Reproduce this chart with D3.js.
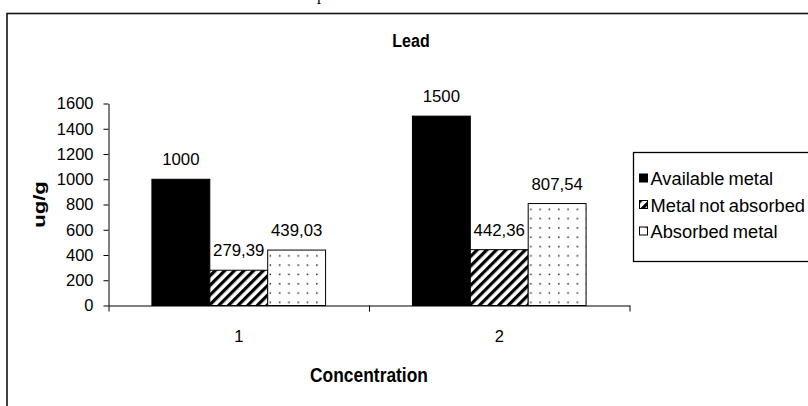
<!DOCTYPE html>
<html>
<head>
<meta charset="utf-8">
<script src="https://cdn.jsdelivr.net/npm/d3@7/dist/d3.min.js"></script>
<style>
  body { margin: 0; background: #fff; }
  svg { display: block; font-family: 'Liberation Sans', Arial, sans-serif; }
</style>
</head>
<body>
<svg id="chart" width="808" height="406"></svg>
<script>
var categories = ['1', '2']
var seriesNames = ['Available metal', 'Metal not absorbed', 'Absorbed metal']
var availableMetal = [1000, 1500]
var metalNotAbsorbed = [279.39, 442.36]
var absorbedMetal = [439.03, 807.54]
var yTicks = [0, 200, 400, 600, 800, 1000, 1200, 1400, 1600]

var seriesValues = [availableMetal, metalNotAbsorbed, absorbedMetal]
var fills = ['#000', 'url(#hatch)', 'url(#dots)']

var svg = d3.select('#chart')

// patterns
var defs = svg.append('defs')
var hatch = defs.append('pattern')
  .attr('id', 'hatch')
  .attr('patternUnits', 'userSpaceOnUse')
  .attr('width', 6.8).attr('height', 6.8)
  .attr('patternTransform', 'rotate(45)')
hatch.append('rect').attr('width', 6.8).attr('height', 6.8).attr('fill', '#fff')
hatch.append('rect').attr('width', 3.2).attr('height', 6.8).attr('fill', '#000')

var dots = defs.append('pattern')
  .attr('id', 'dots')
  .attr('patternUnits', 'userSpaceOnUse')
  .attr('width', 18.6).attr('height', 18.6)
dots.append('rect').attr('width', 18.6).attr('height', 18.6).attr('fill', '#fff')
// dots sit on a staggered grid
dots.selectAll('.dot')
  .data([[3, 4], [12.3, 4], [7.6, 8.6], [3, 13.3], [12.3, 13.3], [17, 8.6]])
  .enter().append('rect')
  .attr('class', 'dot')
  .attr('x', function (d) { return d[0] }).attr('y', function (d) { return d[1] })
  .attr('width', 1.5).attr('height', 1.5)
  .attr('fill', '#222')
  .attr('opacity', function (d, i) { return i === 2 || i === 5 ? 0 : 1 })

// outer frame, cut off by the picture edge
svg.append('rect')
  .attr('x', 7).attr('y', 13.5)
  .attr('width', 820).attr('height', 420)
  .attr('fill', 'none').attr('stroke', '#111').attr('stroke-width', 1.6)

// fragment of caption above the frame
svg.append('text')
  .attr('x', 317).attr('y', 0)
  .style('font-family', "'Liberation Serif', serif")
  .style('font-size', '16px')
  .text('p')

var x0 = d3.scaleBand().domain(categories).range([108.5, 629.5])
var x1 = d3.scaleBand().domain(seriesNames).range([0, x0.bandwidth()]).paddingOuter(0.75)
var y = d3.scaleLinear().domain([0, 1600]).range([305.5, 103.5])

var locale = d3.formatLocale({ decimal: ',', thousands: '.', grouping: [3], currency: ['', ''] })
var fmt2 = locale.format('.2f')
function label (v) { return v % 1 === 0 ? String(v) : fmt2(v) }

// bars
var groups = svg.selectAll('.grp')
  .data(categories)
  .enter().append('g')
  .attr('class', 'grp')
  .attr('transform', function (d) { return 'translate(' + x0(d) + ',0)' })

groups.selectAll('rect')
  .data(function (d, i) {
    return seriesNames.map(function (s, j) { return { name: s, value: seriesValues[j][i], j: j } })
  })
  .enter().append('rect')
  .attr('x', function (d) { return x1(d.name) })
  .attr('y', function (d) { return y(d.value) })
  .attr('width', x1.bandwidth())
  .attr('height', function (d) { return y(0) - y(d.value) })
  .attr('fill', function (d) { return fills[d.j] })
  .attr('stroke', '#000')
  .attr('stroke-width', 1)

groups.selectAll('.barValue')
  .data(function (d, i) {
    return seriesNames.map(function (s, j) { return { name: s, value: seriesValues[j][i] } })
  })
  .enter().append('text')
  .attr('class', 'barValue')
  .attr('x', function (d) { return x1(d.name) + x1.bandwidth() / 2 })
  .attr('y', function (d) { return y(d.value) - 14 })
  .style('text-anchor', 'middle')
  .style('font-size', '16.8px')
  .text(function (d) { return label(d.value) })

// y axis
var yAxis = svg.append('g')
  .attr('transform', 'translate(108.5,0)')
  .call(d3.axisLeft(y).tickValues(yTicks).tickFormat(d3.format('d')).tickSize(5).tickPadding(10).tickSizeOuter(0))
yAxis.selectAll('text').style('font-size', '16.5px').attr('fill', '#000').attr('font-family', null)

// x axis: marks on category edges, labels at centres
var xEdge = d3.scaleLinear().domain([0, categories.length]).range(x0.range())
svg.append('g')
  .attr('transform', 'translate(0,305.5)')
  .call(d3.axisBottom(xEdge).ticks(categories.length).tickFormat('').tickSize(6).tickSizeOuter(0))

var xAxis = svg.append('g')
  .attr('transform', 'translate(0,305.5)')
  .call(d3.axisBottom(x0).tickSize(0).tickPadding(25))
xAxis.select('.domain').remove()
xAxis.selectAll('text').style('font-size', '16.5px').attr('fill', '#000').attr('font-family', null)

svg.selectAll('.domain, .tick line').attr('stroke', '#000')

// title and axis titles
svg.append('text')
  .attr('transform', 'translate(411,47) scale(1,1.17)')
  .style('text-anchor', 'middle')
  .style('font-weight', 'bold')
  .style('font-size', '16px')
  .text('Lead')

svg.append('text')
  .attr('transform', 'translate(369,382) scale(1,1.12)')
  .style('text-anchor', 'middle')
  .style('font-weight', 'bold')
  .style('font-size', '17.4px')
  .text('Concentration')

svg.append('text')
  .attr('transform', 'translate(45,204.5) rotate(-90) scale(1.3,1)')
  .style('text-anchor', 'middle')
  .style('font-weight', 'bold')
  .style('font-size', '17px')
  .text('ug/g')

// legend
var legend = svg.append('g').attr('transform', 'translate(633.5,152.5)')
legend.append('rect')
  .attr('width', 180).attr('height', 109)
  .attr('fill', '#fff').attr('stroke', '#000').attr('stroke-width', 1.3)

var items = legend.selectAll('.item')
  .data(seriesNames)
  .enter().append('g')
  .attr('class', 'item')
  .attr('transform', function (d, i) { return 'translate(0,' + (26.5 + i * 26.5) + ')' })

items.append('rect')
  .attr('x', 6).attr('y', -5)
  .attr('width', 8).attr('height', 8)
  .attr('fill', function (d, i) { return fills[i] })
  .attr('stroke', '#000').attr('stroke-width', 1)

items.append('text')
  .attr('x', 17).attr('y', 6)
  .style('font-size', '18.3px')
  .style('word-spacing', '-1px')
  .text(function (d) { return d })
</script>
</body>
</html>
